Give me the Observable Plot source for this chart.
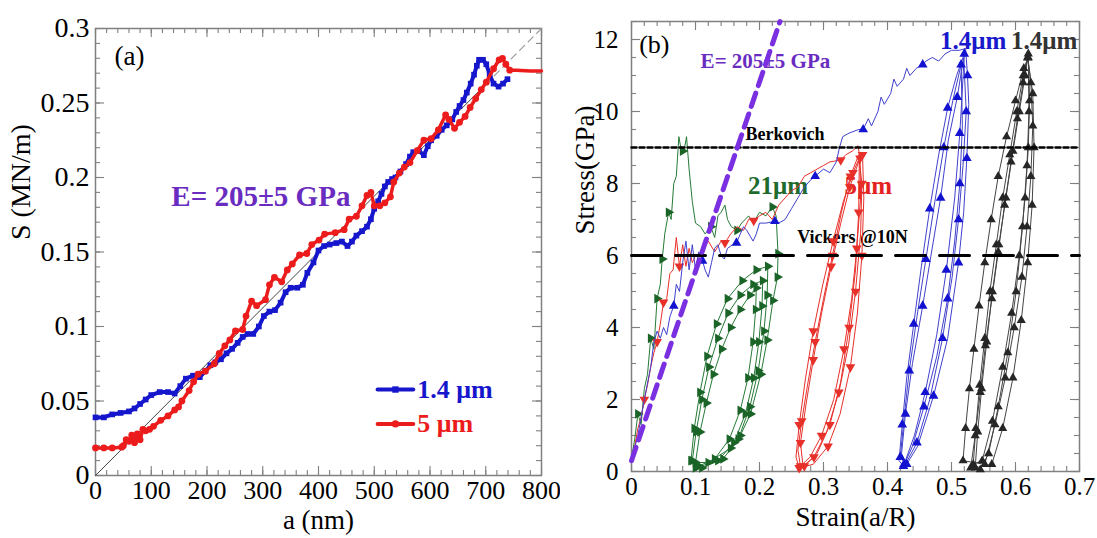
<!DOCTYPE html>
<html><head><meta charset="utf-8">
<script src="https://cdn.jsdelivr.net/npm/d3@7"></script>
<script src="https://cdn.jsdelivr.net/npm/@observablehq/plot@0.6"></script>
<style>
body{margin:0;background:#fff;}
#wrap{position:relative;width:1097px;height:538px;overflow:hidden;}
#pa{position:absolute;left:0;top:0;}
#pb{position:absolute;left:560px;top:0;}
#wrap svg, #wrap svg text{font-family: Liberation Serif, DejaVu Serif, Noto Serif, Times New Roman, Times, serif;}
</style></head><body><div id="wrap"><div id="pa"></div><div id="pb"></div></div>
<script>
const SERIF = 'Liberation Serif, DejaVu Serif, Noto Serif, Times New Roman, Times, serif';

// ---------- Panel (a) data ----------
const aXTicks = [0,100,200,300,400,500,600,700,800];
const aYTicks = [0,0.05,0.1,0.15,0.2,0.25,0.3];
const aBlue = [[0,0.039],[15,0.039],[30,0.041],[45,0.042],[60,0.043],[70,0.045],[80,0.048],[90,0.051],[100,0.054],[115,0.056],[130,0.056],[142,0.055],[152,0.06],[162,0.065],[175,0.067],[187,0.066],[197,0.07],[206,0.074],[215,0.076],[225,0.078],[235,0.082],[245,0.085],[255,0.089],[264,0.093],[273,0.095],[283,0.095],[293,0.1],[302,0.107],[312,0.11],[322,0.111],[332,0.116],[341,0.123],[350,0.126],[362,0.126],[372,0.128],[380,0.136],[391,0.143],[400,0.151],[410,0.154],[420,0.155],[432,0.156],[442,0.157],[452,0.154],[460,0.157],[468,0.161],[478,0.164],[487,0.167],[494,0.172],[500,0.179],[507,0.184],[513,0.189],[519,0.194],[525,0.197],[532,0.199],[538,0.2],[547,0.204],[557,0.209],[564,0.214],[570,0.217],[580,0.218],[589,0.215],[596,0.221],[602,0.225],[612,0.228],[621,0.232],[630,0.235],[640,0.239],[647,0.244],[653,0.248],[660,0.252],[666,0.257],[673,0.263],[679,0.269],[684,0.275],[688,0.279],[695,0.279],[701,0.276],[707,0.269],[714,0.263],[723,0.261],[731,0.263],[739,0.266]];
const aRed = [[0,0.0185],[15,0.0185],[30,0.0185],[47,0.019],[50,0.02],[55,0.024],[60,0.023],[65,0.027],[70,0.022],[75,0.028],[80,0.024],[85,0.031],[90,0.03],[97,0.031],[104,0.033],[117,0.037],[130,0.04],[142,0.044],[149,0.046],[155,0.05],[168,0.057],[176,0.063],[184,0.068],[197,0.07],[213,0.075],[222,0.082],[232,0.087],[241,0.091],[251,0.097],[264,0.098],[270,0.107],[280,0.117],[289,0.114],[305,0.118],[312,0.128],[321,0.133],[334,0.13],[344,0.138],[353,0.142],[366,0.148],[379,0.149],[388,0.155],[401,0.158],[411,0.162],[430,0.163],[446,0.165],[455,0.172],[468,0.174],[478,0.181],[487,0.188],[494,0.19],[500,0.181],[510,0.181],[519,0.183],[529,0.187],[535,0.197],[545,0.203],[554,0.207],[564,0.21],[577,0.218],[589,0.225],[602,0.226],[615,0.232],[628,0.242],[634,0.239],[644,0.233],[653,0.237],[663,0.241],[672,0.247],[682,0.253],[692,0.259],[701,0.264],[714,0.273],[724,0.279],[730,0.28],[736,0.276],[743,0.272],[755,0.272],[780,0.2715],[800,0.2715]];
const aRefSolid = [[0,0],[700,0.2625]];
const aRefDash = [[700,0.2625],[800,0.3]];
const aLegend = [
  {label:"1.4 \u03bcm", y:0.0577, color:"#1616cc", symbol:"square"},
  {label:"5 \u03bcm", y:0.0346, color:"#ec1c1c", symbol:"circle"}
];
const aLegendX = [506, 570, 538, 577]; // line start, line end, marker, text
const aNotes = [
  {t:"(a)", x:34, y:0.2815, size:27, weight:"normal", color:"#000"},
  {t:"E= 205\u00b15 GPa", x:136, y:0.187, size:29, weight:"bold", color:"#6a2cc0"}
];

// ---------- Panel (b) data ----------
const bXTicks = [0,0.1,0.2,0.3,0.4,0.5,0.6,0.7];
const bYTicks = [0,2,4,6,8,10,12];
const bModulus = [[0,0.3],[0.232,12.5]];
const bBerkovich = [[0,9.0],[0.7,9.0]];
const bVickers = [[0,6.0],[0.7,6.0]];

const gLoad = [[0,0.35],[0.005,0.9],[0.01,1.6],[0.015,1.3],[0.02,2.3],[0.025,2.7],[0.03,3.7],[0.035,3.4],[0.04,4.8],[0.045,5.2],[0.048,5.9],[0.052,6.6],[0.058,7.2],[0.062,7.0],[0.066,8.0],[0.07,8.2],[0.074,9.3],[0.078,8.9],[0.082,8.9],[0.086,9.3],[0.09,8.4],[0.095,7.5],[0.1,6.9],[0.108,6.8],[0.115,6.6],[0.124,6.8],[0.13,6.5],[0.135,7.1],[0.14,7.2],[0.146,7.4],[0.15,7.0],[0.156,6.8],[0.165,6.7],[0.172,6.9],[0.183,7.1],[0.19,6.9],[0.2,7.2],[0.21,7.1],[0.22,7.35],[0.226,7.1],[0.229,6.05]];
const gCycles = [[0.228,5.4],[0.221,4.75],[0.212,3.65],[0.202,2.7],[0.186,1.6],[0.17,1.0],[0.155,0.65],[0.12,0.25],
  [0.1,0.25],[0.107,1.1],[0.117,1.9],[0.128,2.7],[0.141,3.4],[0.155,4.0],[0.17,4.5],[0.185,4.9],[0.195,5.1],
  [0.194,4.5],[0.19,3.6],[0.182,2.6],[0.17,1.7],[0.153,0.9],[0.13,0.35],[0.105,0.15],
  [0.095,0.3],[0.101,1.1],[0.11,2.0],[0.121,2.9],[0.135,3.7],[0.151,4.4],[0.17,4.9],[0.19,5.2],[0.205,5.3],
  [0.204,4.6],[0.199,3.6],[0.191,2.6],[0.178,1.6],[0.16,0.8],[0.135,0.3],[0.1,0.1],
  [0.093,0.3],[0.098,1.2],[0.107,2.2],[0.118,3.2],[0.133,4.1],[0.15,4.8],[0.173,5.3],[0.195,5.6],[0.213,5.7],
  [0.212,4.9],[0.207,3.9],[0.198,2.8],[0.185,1.8],[0.167,0.9],[0.143,0.35],[0.11,0.1]];
const gLoadMarks = [[0.01,1.6],[0.03,3.7],[0.04,4.8],[0.048,5.9],[0.058,7.2],[0.08,8.9],[0.124,6.8],[0.165,6.7],[0.22,7.35],[0.229,6.05]];

const rLoad = [[0,0.3],[0.005,0.7],[0.01,1.2],[0.015,1.5],[0.02,2.0],[0.025,2.4],[0.03,2.9],[0.035,3.3],[0.04,3.6],[0.045,4.1],[0.05,4.7],[0.055,4.8],[0.06,5.5],[0.065,5.6],[0.07,6.5],[0.075,5.7],[0.08,6.3],[0.085,5.7],[0.09,6.2],[0.095,5.8],[0.1,6.0],[0.11,6.1],[0.12,6.4],[0.13,6.1],[0.14,6.4],[0.146,6.35],[0.155,6.6],[0.165,6.8],[0.175,6.7],[0.183,7.0],[0.191,6.97],[0.2,7.1],[0.21,7.2],[0.22,7.0],[0.23,7.4],[0.24,7.6],[0.25,7.8],[0.26,7.9],[0.27,8.2],[0.28,8.3],[0.29,8.4],[0.3,8.5],[0.31,8.6],[0.327,8.65],[0.335,8.8],[0.345,8.9],[0.354,9.05]];
const rCycles = [[0.357,8.7],[0.358,7.6],[0.352,6.2],[0.344,4.8],[0.332,3.4],[0.316,2.0],[0.297,1.0],[0.279,0.4],[0.264,0.15],
  [0.26,0.6],[0.266,1.4],[0.275,2.4],[0.287,3.6],[0.3,4.8],[0.314,6.0],[0.328,7.2],[0.342,8.2],[0.355,8.8],
  [0.36,8.0],[0.358,6.6],[0.35,5.0],[0.339,3.5],[0.324,2.2],[0.305,1.1],[0.285,0.4],[0.268,0.15],
  [0.264,0.8],[0.273,1.9],[0.284,3.1],[0.297,4.4],[0.312,5.7],[0.327,6.9],[0.341,7.9],[0.355,8.6],[0.361,8.8],
  [0.363,7.6],[0.36,6.0],[0.353,4.4],[0.342,2.9],[0.326,1.6],[0.307,0.7],[0.284,0.2],[0.262,0.1],
  [0.257,0.4],[0.262,1.3],[0.272,2.6],[0.284,3.9],[0.299,5.2],[0.315,6.4],[0.331,7.5],[0.346,8.3],[0.356,8.7],
  [0.355,7.2],[0.35,5.6],[0.34,4.0],[0.327,2.5],[0.31,1.3],[0.29,0.5],[0.27,0.15]];
const rLoadMarks = [[0.02,2.0],[0.04,3.6],[0.05,4.7],[0.075,5.7],[0.146,6.35],[0.191,6.97],[0.327,8.65]];

const bLoad = [[0,0.3],[0.01,1.0],[0.02,2.0],[0.03,2.9],[0.035,3.6],[0.04,3.9],[0.045,3.7],[0.05,4.0],[0.055,3.8],[0.06,4.3],[0.066,4.6],[0.07,5.2],[0.075,5.0],[0.08,5.8],[0.085,6.4],[0.09,5.6],[0.095,6.3],[0.1,5.6],[0.105,6.1],[0.111,5.85],[0.115,5.6],[0.12,5.4],[0.125,5.8],[0.13,6.2],[0.135,6.3],[0.14,6.0],[0.145,5.9],[0.15,6.2],[0.158,6.3],[0.164,6.35],[0.17,6.6],[0.175,6.8],[0.18,6.7],[0.19,6.4],[0.195,6.6],[0.2,6.9],[0.21,6.9],[0.224,6.95],[0.23,6.9],[0.24,7.0],[0.25,7.3],[0.26,7.6],[0.27,7.9],[0.28,8.1],[0.287,8.2],[0.3,8.4],[0.31,8.3],[0.32,8.6],[0.325,9.0],[0.33,9.3],[0.34,9.4],[0.355,9.5],[0.362,9.5],[0.37,9.8],[0.375,9.6],[0.385,10.0],[0.39,10.4],[0.395,10.2],[0.405,10.5],[0.41,10.9],[0.415,10.7],[0.425,10.9],[0.43,11.2],[0.435,11.0],[0.445,11.2],[0.455,11.3],[0.46,11.4],[0.47,11.5],[0.48,11.4],[0.49,11.6],[0.5,11.7],[0.512,11.7],[0.522,11.75]];
const bCycles = [[0.525,11.0],[0.527,10.2],[0.524,8.7],[0.519,7.2],[0.511,5.8],[0.494,3.7],[0.472,2.1],[0.447,0.7],[0.43,0.2],
  [0.422,0.5],[0.428,1.6],[0.439,3.0],[0.455,4.6],[0.467,5.9],[0.483,7.6],[0.495,9.2],[0.509,10.4],[0.519,11.5],
  [0.523,10.0],[0.518,8.5],[0.511,7.0],[0.501,5.4],[0.486,3.7],[0.466,2.0],[0.446,0.8],[0.428,0.2],
  [0.42,0.4],[0.426,1.5],[0.434,2.8],[0.446,4.3],[0.46,5.9],[0.474,7.5],[0.488,9.0],[0.502,10.3],[0.515,11.3],
  [0.517,9.6],[0.513,8.0],[0.505,6.4],[0.494,4.8],[0.477,3.2],[0.457,1.8],[0.439,0.7],[0.425,0.15],
  [0.418,0.3],[0.423,1.3],[0.43,2.6],[0.441,4.1],[0.453,5.7],[0.466,7.3],[0.48,8.8],[0.494,10.1],[0.508,11.0],[0.52,11.6],
  [0.516,10.3],[0.513,9.4],[0.505,7.6],[0.492,5.6],[0.477,3.8],[0.459,2.2],[0.442,1.0],[0.426,0.2]];
const bLoadMarks = [[0.066,4.6],[0.111,5.85],[0.164,6.35],[0.224,6.95],[0.287,8.2],[0.362,9.5],[0.455,11.3]];

const kCycles = [[0.53,0.1],[0.537,1.0],[0.545,2.2],[0.553,3.5],[0.563,4.8],[0.573,6.1],[0.583,7.4],[0.593,8.6],[0.603,9.8],[0.612,10.8],[0.619,11.5],
  [0.624,10.8],[0.627,9.6],[0.624,8.2],[0.618,6.8],[0.61,5.4],[0.598,4.0],[0.584,2.6],[0.568,1.3],[0.552,0.2],
  [0.518,0.3],[0.522,1.2],[0.528,2.3],[0.535,3.4],[0.543,4.6],[0.552,5.8],[0.562,7.0],[0.573,8.2],[0.586,9.3],[0.6,10.3],[0.613,11.2],[0.62,11.5],
  [0.622,10.3],[0.62,9.0],[0.615,7.6],[0.606,6.0],[0.594,4.4],[0.58,2.9],[0.564,1.4],[0.548,0.3],
  [0.534,0.2],[0.538,1.2],[0.544,2.4],[0.552,3.7],[0.56,5.0],[0.57,6.3],[0.58,7.6],[0.591,8.8],[0.602,10.0],[0.612,11.0],[0.619,11.5],
  [0.627,10.5],[0.629,9.0],[0.626,7.4],[0.619,5.8],[0.609,4.2],[0.596,2.6],[0.58,1.2],[0.563,0.2],
  [0.537,0.1],[0.541,1.1],[0.547,2.3],[0.555,3.6],[0.564,5.0],[0.574,6.3],[0.585,7.6],[0.596,8.9],[0.606,10.0],[0.615,11.0],[0.62,11.6],
  [0.621,10.0],[0.618,8.5],[0.611,6.8],[0.601,5.0],[0.588,3.3],[0.573,1.8],[0.558,0.5],[0.545,0.05]];

const bNotes = [
  {t:"(b)", x:0.012, y:11.86, size:26, weight:"normal", color:"#000"},
  {t:"E= 205\u00b15 GPa", x:0.108, y:11.4, size:21, weight:"bold", color:"#6a2cc0"},
  {t:"Berkovich", x:0.178, y:9.37, size:18, weight:"bold", color:"#000"},
  {t:"Vickers @10N", x:0.259, y:6.5, size:18, weight:"bold", color:"#000"},
  {t:"21\u03bcm", x:0.182, y:7.93, size:25, weight:"bold", color:"#1e6b2e"},
  {t:"5\u03bcm", x:0.333, y:7.93, size:25, weight:"bold", color:"#e52222"},
  {t:"1.4\u03bcm", x:0.482, y:11.95, size:25, weight:"bold", color:"#1818cc"},
  {t:"1.4\u03bcm", x:0.593, y:11.95, size:25, weight:"bold", color:"#333"}
];

// ---------- helpers ----------
function triangle(angleDeg){
  const a = angleDeg*Math.PI/180, c = Math.cos(a), s = Math.sin(a);
  return {draw(ctx, size){
    const y = -Math.sqrt(size/(Math.sqrt(3)*3));
    const pts = [[0,y*2],[-Math.sqrt(3)*y,-y],[Math.sqrt(3)*y,-y]];
    pts.forEach(([px,py],i)=>{const X=px*c-py*s, Y=px*s+py*c; if(i) ctx.lineTo(X,Y); else ctx.moveTo(X,Y);});
    ctx.closePath();
  }};
}
function frameTicks(xMaj, xMin, yMaj, yMin, pw, ph, col){
  const o = {stroke: col, strokeWidth: 1.1};
  return [
    Plot.tickX(xMaj, {x: d=>d, insetTop: ph-9, ...o}),
    Plot.tickX(xMaj, {x: d=>d, insetBottom: ph-9, ...o}),
    Plot.tickX(xMin, {x: d=>d, insetTop: ph-5, ...o}),
    Plot.tickX(xMin, {x: d=>d, insetBottom: ph-5, ...o}),
    Plot.tickY(yMaj, {y: d=>d, insetRight: pw-9, ...o}),
    Plot.tickY(yMaj, {y: d=>d, insetLeft: pw-9, ...o}),
    Plot.tickY(yMin, {y: d=>d, insetRight: pw-5, ...o}),
    Plot.tickY(yMin, {y: d=>d, insetLeft: pw-5, ...o}),
    Plot.frame({stroke: col, strokeWidth: 1.5})
  ];
}
function notes(list){
  return list.map(n => Plot.text([n], {x:"x", y:"y", text:"t", textAnchor:"start", fontSize:n.size, fontWeight:n.weight, fill:n.color, fontFamily:SERIF}));
}

// ---------- Panel (a) ----------
{
  const W=560, H=538, mL=95, mR=19, mT=28, mB=63;
  const pw=W-mL-mR, ph=H-mT-mB;
  const blue="#1616cc", red="#ec1c1c";
  const plotA = Plot.plot({
    width: W, height: H, marginLeft: mL, marginRight: mR, marginTop: mT, marginBottom: mB,
    style: {fontFamily: SERIF, background: "white", color: "#000"},
    x: {domain: [0,800]}, y: {domain: [0,0.3]},
    marks: [
      ...frameTicks(aXTicks, d3.range(0,801,20), aYTicks, d3.range(0,0.3001,0.01), pw, ph, "#808080"),
      Plot.axisX({ticks: aXTicks, tickSize: 0, tickPadding: 5, fontSize: 26, fontFamily: SERIF, tickFormat: d=>String(d), label: null}),
      Plot.axisY({ticks: aYTicks, tickSize: 0, tickPadding: 6, fontSize: 28, fontFamily: SERIF, tickFormat: d=>String(d), label: null}),
      Plot.text(["a (nm)"], {frameAnchor: "bottom", dy: 53, fontSize: 27, fontFamily: SERIF}),
      Plot.text(["S (MN/m)"], {frameAnchor: "left", dx: -74, dy: -12, rotate: -90, fontSize: 28, fontFamily: SERIF}),
      Plot.line(aRefSolid, {stroke: "#444", strokeWidth: 1}),
      Plot.line(aRefDash, {stroke: "#999", strokeWidth: 1.2, strokeDasharray: "7,5"}),
      Plot.line(aBlue, {stroke: blue, strokeWidth: 4}),
      Plot.dot(aBlue, {symbol: "square", r: 3.2, fill: blue}),
      Plot.line(aRed, {stroke: red, strokeWidth: 3.5}),
      Plot.dot(aRed.filter(d => d[0] <= 750), {symbol: "circle", r: 3.4, fill: red}),
      ...notes(aNotes),
      ...aLegend.map(l => Plot.line([[aLegendX[0], l.y],[aLegendX[1], l.y]], {stroke: l.color, strokeWidth: 4})),
      ...aLegend.map(l => Plot.dot([[aLegendX[2], l.y]], {symbol: l.symbol, r: 3.6, fill: l.color})),
      ...aLegend.map(l => Plot.text([l], {x: () => aLegendX[3], y: "y", text: "label", textAnchor: "start", fontSize: 26, fontWeight: "bold", fill: l.color, fontFamily: SERIF}))
    ]
  });
  document.getElementById("pa").appendChild(plotA);
}

// ---------- Panel (b) ----------
{
  const W=537, H=538, mL=71, mR=18, mT=21, mB=67;
  const pw=W-mL-mR, ph=H-mT-mB;
  const green="#267a36", greenM="#1b6428", redC="#e8302a", blueL="#4040cc", blueM="#1212d0", blk="#444", blkM="#262626";
  const plotB = Plot.plot({
    width: W, height: H, marginLeft: mL, marginRight: mR, marginTop: mT, marginBottom: mB,
    style: {fontFamily: SERIF, background: "white", color: "#000"},
    x: {domain: [0,0.7]}, y: {domain: [0,12.5]},
    marks: [
      ...frameTicks(bXTicks, d3.range(0,0.7001,0.02), bYTicks, d3.range(0,12.5001,0.5), pw, ph, "#808080"),
      Plot.axisX({ticks: bXTicks, tickSize: 0, tickPadding: 6, fontSize: 25, fontFamily: SERIF, tickFormat: d=>String(d), label: null}),
      Plot.axisY({ticks: bYTicks, tickSize: 0, tickPadding: 13, fontSize: 25, fontFamily: SERIF, tickFormat: d=>String(d), label: null}),
      Plot.text(["Strain(a/R)"], {frameAnchor: "bottom", dy: 54, fontSize: 27, fontFamily: SERIF}),
      Plot.text(["Stress(GPa)"], {frameAnchor: "left", dx: -46, dy: -12, rotate: -90, fontSize: 27, fontFamily: SERIF}),
      ...notes(bNotes),
      Plot.line([...gLoad, ...gCycles], {stroke: green, strokeWidth: 1}),
      Plot.dot(gCycles, {symbol: triangle(90), r: 3.6, fill: greenM}),
      Plot.dot(gLoadMarks, {symbol: triangle(90), r: 3.6, fill: greenM}),
      Plot.line([...rLoad, ...rCycles], {stroke: redC, strokeWidth: 1}),
      Plot.dot(rCycles.filter((d,i) => i % 2 === 0), {symbol: triangle(180), r: 3.6, fill: redC}),
      Plot.dot(rLoadMarks, {symbol: triangle(180), r: 3.6, fill: redC}),
      Plot.line([...bLoad, ...bCycles], {stroke: blueL, strokeWidth: 1}),
      Plot.dot(bCycles.filter((d,i) => i % 2 === 0), {symbol: triangle(0), r: 3.6, fill: blueM}),
      Plot.dot(bLoadMarks, {symbol: triangle(0), r: 3.6, fill: blueM}),
      Plot.line(kCycles, {stroke: blk, strokeWidth: 1}),
      Plot.dot(kCycles, {symbol: triangle(0), r: 3.4, fill: blkM}),
      Plot.line(bBerkovich, {stroke: "#000", strokeWidth: 2.5, strokeDasharray: "5,3"}),
      Plot.line(bVickers, {stroke: "#000", strokeWidth: 3, strokeDasharray: "30,14"}),
      Plot.line(bModulus, {stroke: "#7a30e0", strokeWidth: 5, strokeDasharray: "14,8"})
    ]
  });
  document.getElementById("pb").appendChild(plotB);
}
</script></body></html>
